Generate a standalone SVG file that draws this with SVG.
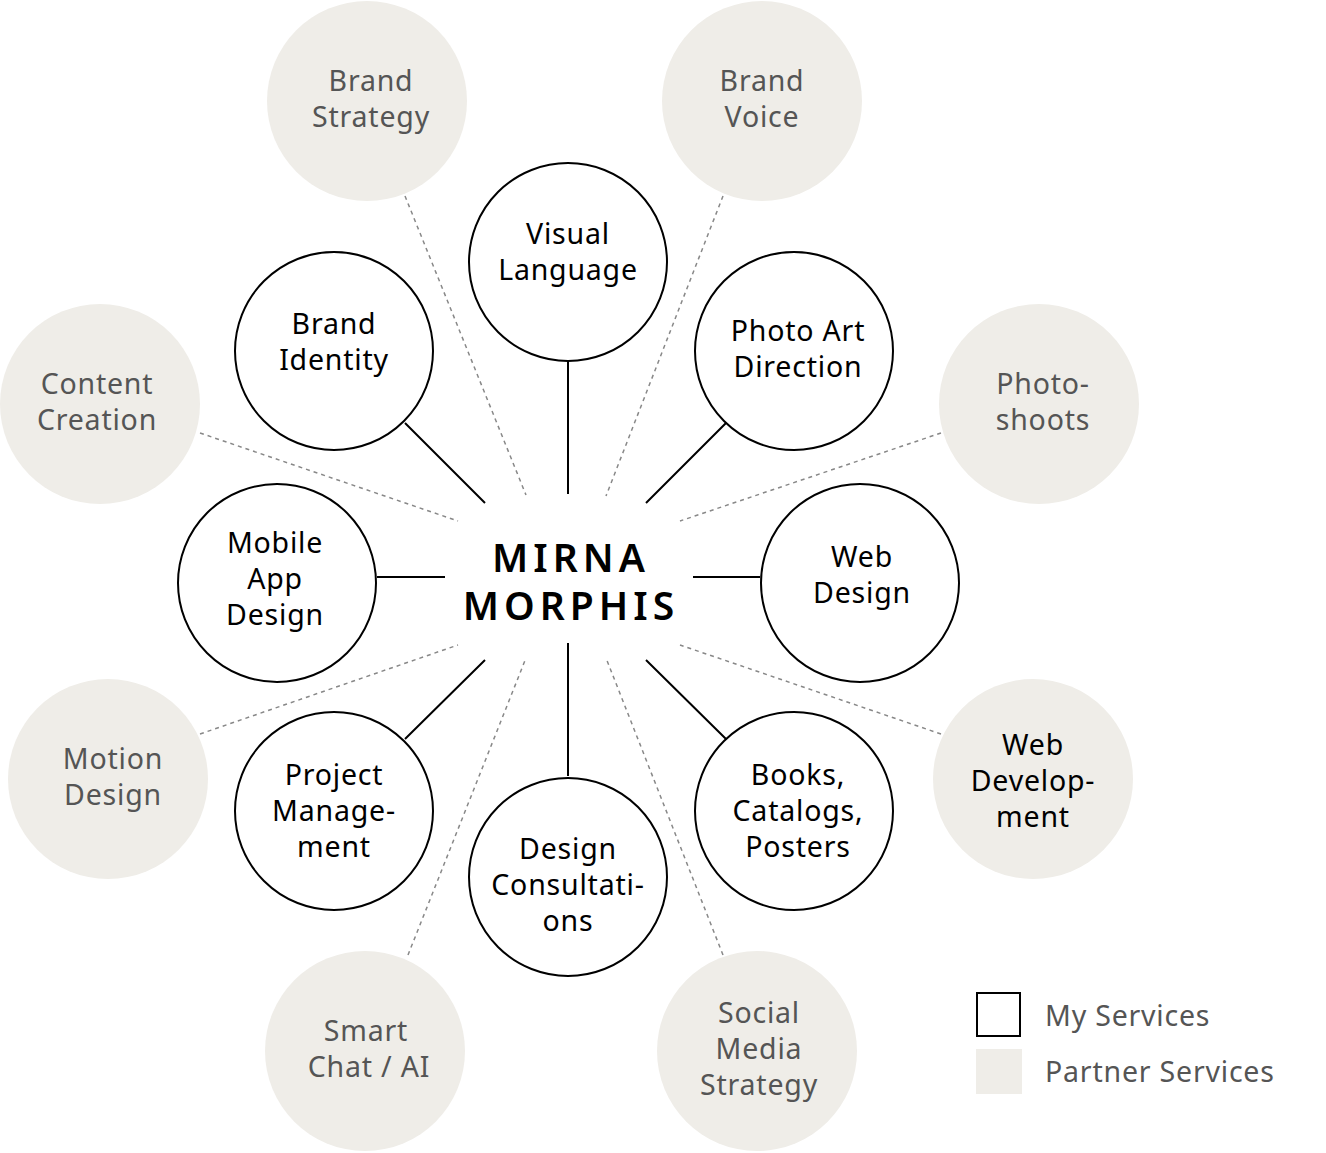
<svg xmlns="http://www.w3.org/2000/svg" width="1326" height="1153" viewBox="0 0 1326 1153">
<style>
.my{fill:#fff;stroke:#000;stroke-width:2}
.pt{fill:#efede8}
text{font-family:"Noto Sans","Liberation Sans",sans-serif;font-size:28.5px;text-anchor:middle;letter-spacing:0.8px}
.mt{fill:#000}
.pl{fill:#555}
.s{stroke:#000;stroke-width:2;fill:none}
.d{stroke:#888;stroke-width:1.5;stroke-dasharray:4 4;fill:none}
.lg{font-size:39px;font-weight:600;letter-spacing:5px}
.leg{text-anchor:start;fill:#555}
</style>
<rect width="1326" height="1153" fill="#fff"/>
<g id="connectors">
<path class="s" d="M568 362V494M405 423L485 503M726 423L646 503M377 577H445M693 577H760M405 739L485 660M726 739L646 660M568 643V776"/>
<path class="d" d="M405 196L526 495M723 196L606 496M200 433L458 521M941 433L680 521M200 734L458 645M941 734L680 645M408 955L526 658M723 955L606 658"/>
</g>
<g id="brand-strategy"><circle class="pt" cx="367" cy="101" r="100"/><text class="pl" x="371" y="91">Brand</text><text class="pl" x="371" y="127">Strategy</text></g>
<g id="brand-voice"><circle class="pt" cx="762" cy="101" r="100"/><text class="pl" x="762" y="91">Brand</text><text class="pl" x="762" y="127">Voice</text></g>
<g id="content-creation"><circle class="pt" cx="100" cy="404" r="100"/><text class="pl" x="97" y="394">Content</text><text class="pl" x="97" y="430">Creation</text></g>
<g id="photoshoots"><circle class="pt" cx="1039" cy="404" r="100"/><text class="pl" x="1043" y="394">Photo-</text><text class="pl" x="1043" y="430">shoots</text></g>
<g id="motion-design"><circle class="pt" cx="108" cy="779" r="100"/><text class="pl" x="113" y="769">Motion</text><text class="pl" x="113" y="805">Design</text></g>
<g id="web-development"><circle class="pt" cx="1033" cy="779" r="100"/><text class="mt" x="1033" y="755">Web</text><text class="mt" x="1033" y="791">Develop-</text><text class="mt" x="1033" y="827">ment</text></g>
<g id="smart-chat"><circle class="pt" cx="365" cy="1051" r="100"/><text class="pl" x="366" y="1041">Smart</text><text class="pl" x="369" y="1077">Chat / AI</text></g>
<g id="social-media"><circle class="pt" cx="757" cy="1051" r="100"/><text class="pl" x="759" y="1023">Social</text><text class="pl" x="759" y="1059">Media</text><text class="pl" x="759" y="1095">Strategy</text></g>
<g id="visual-language"><circle class="my" cx="568" cy="262" r="99"/><text class="mt" x="568" y="244">Visual</text><text class="mt" x="568" y="280">Language</text></g>
<g id="brand-identity"><circle class="my" cx="334" cy="351" r="99"/><text class="mt" x="334" y="334">Brand</text><text class="mt" x="334" y="370">Identity</text></g>
<g id="photo-art-direction"><circle class="my" cx="794" cy="351" r="99"/><text class="mt" x="798" y="341">Photo Art</text><text class="mt" x="798" y="377">Direction</text></g>
<g id="mobile-app-design"><circle class="my" cx="277" cy="583" r="99"/><text class="mt" x="275" y="553">Mobile</text><text class="mt" x="275" y="589">App</text><text class="mt" x="275" y="625">Design</text></g>
<g id="web-design"><circle class="my" cx="860" cy="583" r="99"/><text class="mt" x="862" y="567">Web</text><text class="mt" x="862" y="603">Design</text></g>
<g id="project-management"><circle class="my" cx="334" cy="811" r="99"/><text class="mt" x="334" y="785">Project</text><text class="mt" x="334" y="821">Manage-</text><text class="mt" x="334" y="857">ment</text></g>
<g id="books"><circle class="my" cx="794" cy="811" r="99"/><text class="mt" x="798" y="785">Books,</text><text class="mt" x="798" y="821">Catalogs,</text><text class="mt" x="798" y="857">Posters</text></g>
<g id="design-consultations"><circle class="my" cx="568" cy="877" r="99"/><text class="mt" x="568" y="859">Design</text><text class="mt" x="568" y="895">Consultati-</text><text class="mt" x="568" y="931">ons</text></g>
<g id="center"><text class="mt lg" x="571" y="572">MIRNA</text><text class="mt lg" x="571" y="620">MORPHIS</text></g>
<g id="legend"><rect x="977" y="993" width="43" height="43" fill="#fff" stroke="#000" stroke-width="2"/><rect x="976" y="1049" width="46" height="45" class="pt"/><text class="leg" x="1045" y="1026">My Services</text><text class="leg" x="1045" y="1082">Partner Services</text></g>
</svg>
